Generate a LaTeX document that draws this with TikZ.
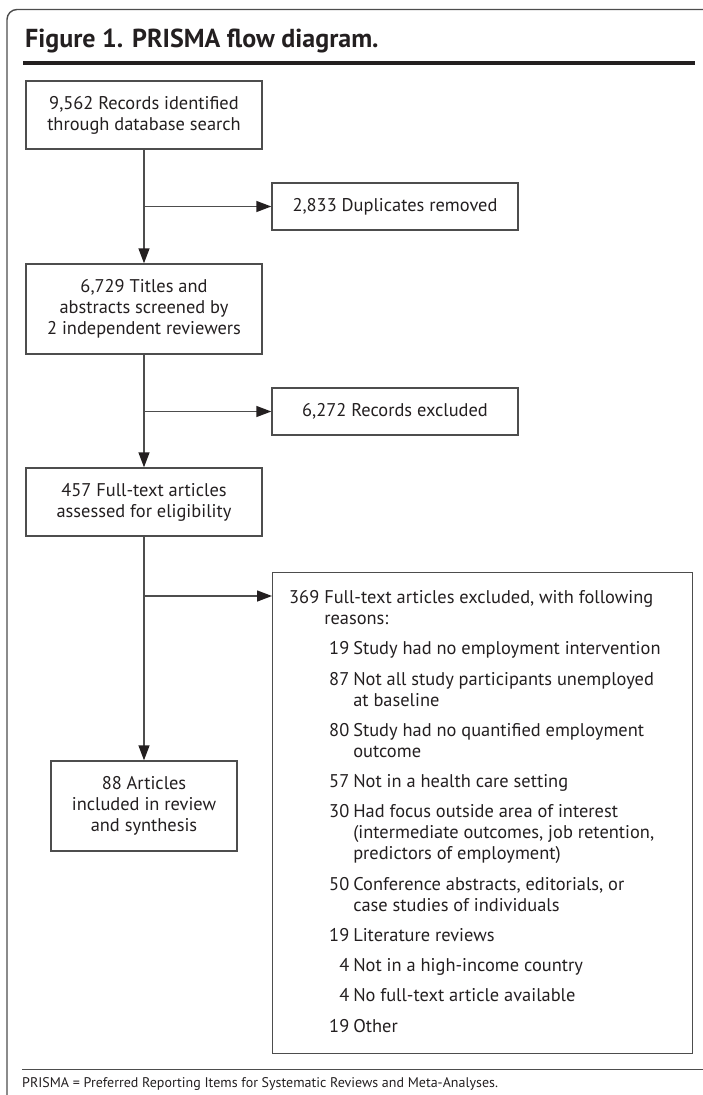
\documentclass[tikz,border=0pt]{standalone}
\usepackage{fontspec}
\setmainfont{PT Sans}
\usetikzlibrary{arrows.meta}
\definecolor{ink}{HTML}{231F20}
\definecolor{rulegray}{HTML}{4D4D4D}
\newcommand{\bodyfont}{\fontsize{18.4}{21}\selectfont}
\newcommand{\titlefont}{\fontsize{26}{30}\selectfont\bfseries}
\newcommand{\notefont}{\fontsize{14}{16}\selectfont}
\newcommand{\num}[1]{\makebox[25pt][r]{#1}}
\begin{document}
\begin{tikzpicture}[x=1pt,y=-1pt,
  box/.style={draw=rulegray, line width=1.4pt, text=ink, align=center, inner sep=0pt, font=\bodyfont},
  flow/.style={draw=rulegray, line width=1.4pt, -{Triangle[length=15pt,width=11pt,color=ink]}},
  frame/.style={draw=rulegray, line width=1.4pt}]
\useasboundingbox (0,0) rectangle (703,1095);
% frame
\draw[frame, rounded corners=10pt] (703,9.5) -- (7,9.5) -- (7,1095);
% title
\node[anchor=base west, inner sep=0pt, font=\titlefont, text=ink] (title) at (25,47) {Figure 1. PRISMA flow diagram.};
\draw[draw=ink, line width=3.5pt] (23,63) -- (695,63);
% boxes
\node[box, minimum width=236pt, minimum height=68pt] (records) at (144,115) {9,562 Records identified\\through database search};
\node[box, minimum width=246pt, minimum height=47pt] (dup) at (395,206.5) {2,833 Duplicates removed};
\node[box, minimum width=236pt, minimum height=90pt] (screened) at (144,309) {6,729 Titles and\\abstracts screened by\\2 independent reviewers};
\node[box, minimum width=246pt, minimum height=47pt] (excl) at (395,411.5) {6,272 Records excluded};
\node[box, minimum width=236pt, minimum height=68pt] (fulltext) at (144,502) {457 Full-text articles\\assessed for eligibility};
\node[box, minimum width=186pt, minimum height=90pt] (included) at (144,806) {88 Articles\\included in review\\and synthesis};
\node[box, anchor=north west, minimum width=420pt, minimum height=481pt] (fullexcl) at (272,572) {};
\node[anchor=base west, inner sep=0pt, font=\bodyfont, text=ink, align=left] (reasons) at (289,603.5) {%
\renewcommand{\arraystretch}{1}%
\begin{tabular}[t]{@{}l@{\hspace{5pt}}l@{\hspace{4pt}}l@{}}
369 & \multicolumn{2}{@{}l@{}}{Full-text articles excluded, with following}\\
 & \multicolumn{2}{@{}l@{}}{reasons:}\\[9.25pt]
 & \num{19} & Study had no employment intervention\\[9.25pt]
 & \num{87} & Not all study participants unemployed\\
 & & at baseline\\[9.25pt]
 & \num{80} & Study had no quantified employment\\
 & & outcome\\[9.25pt]
 & \num{57} & Not in a health care setting\\[9.25pt]
 & \num{30} & Had focus outside area of interest\\
 & & (intermediate outcomes, job retention,\\
 & & predictors of employment)\\[9.25pt]
 & \num{50} & Conference abstracts, editorials, or\\
 & & case studies of individuals\\[9.25pt]
 & \num{19} & Literature reviews\\[9.25pt]
 & \num{4} & Not in a high-income country\\[9.25pt]
 & \num{4} & No full-text article available\\[9.25pt]
 & \num{19} & Other
\end{tabular}};
% connectors
\draw[flow] (records.south) -- (screened.north);
\draw[flow] (records.south |- dup.west) -- (dup.west);
\draw[flow] (screened.south) -- (fulltext.north);
\draw[flow] (screened.south |- excl.west) -- (excl.west);
\draw[flow] (fulltext.south) -- (included.north);
\coordinate (split) at (144,596);
\draw[flow] (split) -- (split -| fullexcl.west);
% footnote
\draw[draw=rulegray, line width=1pt] (22,1069) -- (703,1069);
\node[anchor=base west, inner sep=0pt, font=\notefont, text=ink] (note) at (22,1087) {PRISMA = Preferred Reporting Items for Systematic Reviews and Meta-Analyses.};
\end{tikzpicture}
\end{document}
